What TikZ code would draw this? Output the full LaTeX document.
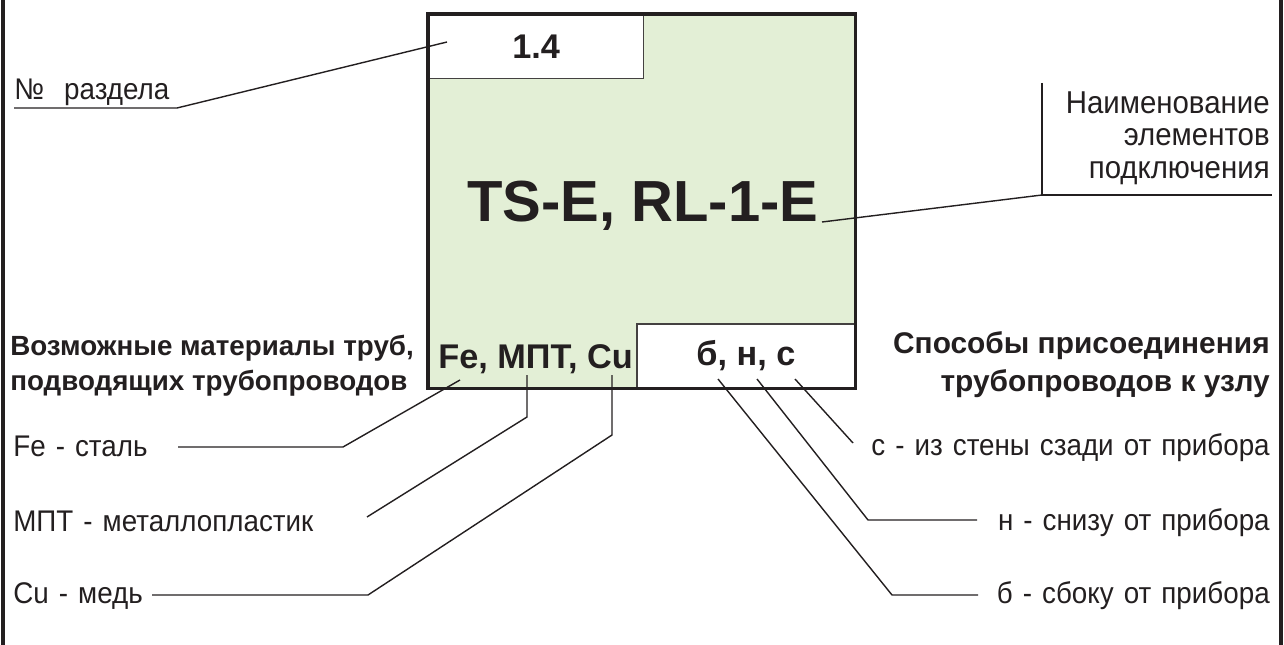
\documentclass[tikz,border=0pt]{standalone}
\usepackage{fontspec}
\setmainfont{Liberation Sans}
\newfontfamily\notefont[WordSpace=1.3, FakeStretch=0.93]{Liberation Sans}
\usepackage{tikz}

\definecolor{ink}{RGB}{35,31,32}
\definecolor{panel}{RGB}{227,239,214}

\begin{document}
\begin{tikzpicture}[
        x=0.02cm, y=-0.02cm,
        every node/.style={inner sep=0pt, text=ink},
        note/.style={font=\notefont\fontsize{17}{18}\selectfont},
        head/.style={font=\fontsize{15.8}{20}\selectfont\bfseries},
        codetext/.style={font=\fontsize{19.5}{22}\selectfont\bfseries},
        panelbox/.style={
            fill=panel,
            minimum width=8.54cm,
            minimum height=7.48cm
        },
        whitebox/.style={
            codetext,
            fill=white,
            draw=ink!85,
            line width=0.8pt,
            minimum height=1.28cm
        },
        leader/.style={draw=ink, line width=0.8pt},
        outline/.style={draw=ink, line width=2pt}
    ]
    \useasboundingbox (0,0) rectangle (1284,645);

    \draw[outline, line width=2.2pt] (3,0) -- (3,645);
    \draw[outline, line width=2.2pt] (1281,0) -- (1281,645);

    \node[panelbox, anchor=north west] (unit) at (428,14) {};
    \node[whitebox, minimum width=4.3cm, anchor=north west] (secbox) at (unit.north west) {1.4};
    \node[whitebox, minimum width=4.36cm, anchor=south east] (modebox) at (unit.south east) {б, н, с};
    \draw[outline] (unit.north west) rectangle (unit.south east);

    \node[font=\fontsize{33}{36}\selectfont\bfseries] (title) at (643,206) {TS-E, RL-1-E};
    \node[codetext, anchor=base west] (materials) at (438,368) {Fe, МПТ, Cu};

    \node[note, anchor=base west] (secLabel) at (14,100) {№ \ раздела};
    \node[note, font=\notefont\fontsize{18}{18.5}\selectfont, align=right, anchor=north east] (nameLabel) at (1270,91) {Наименование\\элементов\\подключения};

    \node[head, align=left, anchor=north west] (matHead) at (10,335) {Возможные материалы труб,\\подводящих трубопроводов};
    \node[head, font=\fontsize{17}{22}\selectfont\bfseries, align=right, anchor=north east] (joinHead) at (1270,331) {Способы присоединения\\трубопроводов к узлу};

    \node[note, anchor=base west] (feLabel) at (13,456) {Fe - сталь};
    \node[note, anchor=base west] (mptLabel) at (13,531) {МПТ - металлопластик};
    \node[note, anchor=base west] (cuLabel) at (13,603) {Cu - медь};

    \node[note, anchor=base east] (sLabel) at (1270,455) {с - из стены сзади от прибора};
    \node[note, anchor=base east] (nLabel) at (1270,530) {н - снизу от прибора};
    \node[note, anchor=base east] (bLabel) at (1270,603) {б - сбоку от прибора};

    \coordinate (secStart) at (14,108);
    \coordinate (secBend) at (177,108);
    \coordinate (secTip) at (447,42);
    \coordinate (nameTop) at (1042,83);
    \coordinate (nameCorner) at (1042,195);
    \coordinate (nameEnd) at (1272,195);
    \coordinate (nameTip) at (822,222);
    \coordinate (feStart) at (178,447);
    \coordinate (feBend) at (343,447);
    \coordinate (feTip) at (460,380);
    \coordinate (mptStart) at (367,517);
    \coordinate (mptBend) at (527,417);
    \coordinate (mptTip) at (527,375);
    \coordinate (cuStart) at (152,595);
    \coordinate (cuBend) at (368,595);
    \coordinate (cuKnee) at (612,435);
    \coordinate (cuTip) at (612,375);
    \coordinate (sTip) at (795,379);
    \coordinate (sEnd) at (853,443);
    \coordinate (nTip) at (757,379);
    \coordinate (nBend) at (868,520);
    \coordinate (nEnd) at (977,520);
    \coordinate (bTip) at (718,379);
    \coordinate (bBend) at (892,595);
    \coordinate (bEnd) at (978,595);

    \draw[leader] (secStart) -- (secBend) -- (secTip);
    \draw[leader] (nameTop) -- (nameCorner) -- (nameEnd);
    \draw[leader] (nameCorner) -- (nameTip);
    \draw[leader] (feStart) -- (feBend) -- (feTip);
    \draw[leader] (mptStart) -- (mptBend) -- (mptTip);
    \draw[leader] (cuStart) -- (cuBend) -- (cuKnee) -- (cuTip);
    \draw[leader] (sTip) -- (sEnd);
    \draw[leader] (nTip) -- (nBend) -- (nEnd);
    \draw[leader] (bTip) -- (bBend) -- (bEnd);
\end{tikzpicture}
\end{document}
